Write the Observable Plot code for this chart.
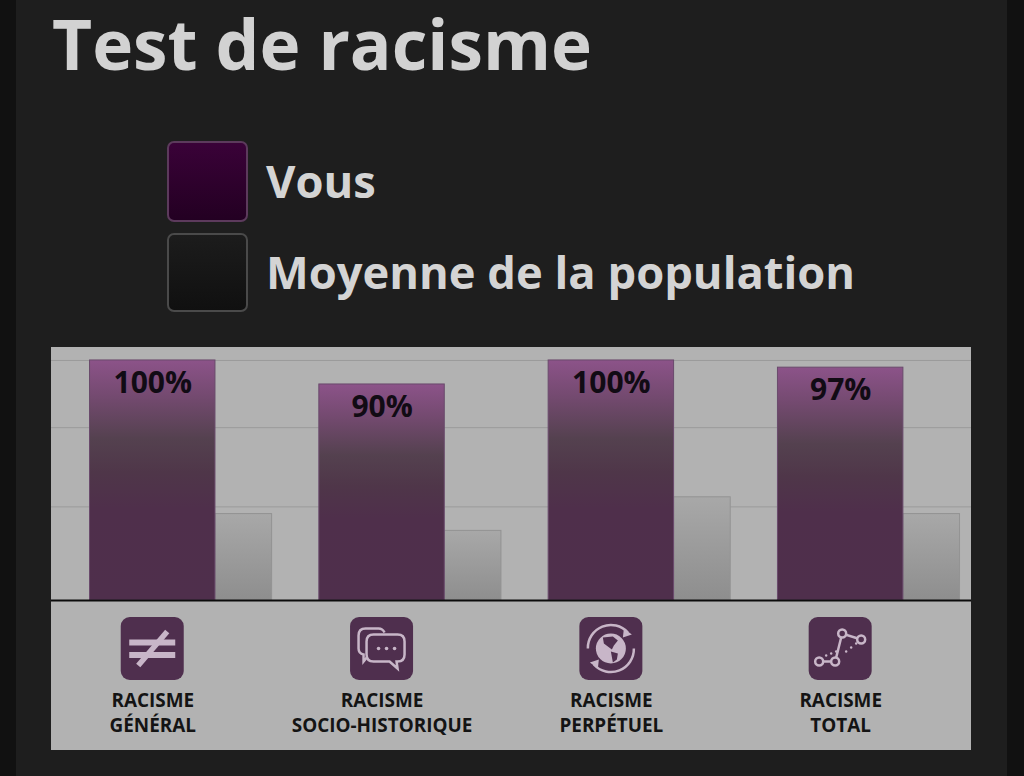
<!DOCTYPE html>
<html lang="fr"><head><meta charset="utf-8">
<script src="https://cdn.jsdelivr.net/npm/d3@7"></script>
<script src="https://cdn.jsdelivr.net/npm/@observablehq/plot@0.6"></script>
<style>
html,body{margin:0;padding:0;width:1024px;height:776px;overflow:hidden;background:#1e1e1e;font-family:"Open Sans","Noto Sans",sans-serif}
#l,#r{position:absolute;top:0;bottom:0;background:#111}
#l{left:0;width:16px}#r{left:1007px;width:17px}
h1{position:absolute;left:52px;top:0;margin:0;font-size:69.3px;line-height:86px;font-weight:700;color:#d2d2d2;white-space:nowrap}
.sw{position:absolute;left:167px;width:77px;border-radius:7px;border:2px solid}
.lb{position:absolute;left:266px;font-size:45.3px;line-height:60px;font-weight:700;color:#d4d4d4;white-space:nowrap}
#chart{position:absolute;left:51px;top:347px}
svg{display:block;overflow:visible}
</style></head><body>
<div id="l"></div><div id="r"></div>
<h1>Test de racisme</h1>
<div class="sw" style="top:141px;height:77px;background:linear-gradient(#3a0238,#230022);border-color:#5c3a5c"></div>
<div class="lb" style="top:151px">Vous</div>
<div class="sw" style="top:233px;height:75px;background:linear-gradient(#1c1c1c,#101010);border-color:#4a4a4a"></div>
<div class="lb" style="top:242px">Moyenne de la population</div>
<div id="chart"></div>
<script>
const categories = ["RACISME\nGÉNÉRAL", "RACISME\nSOCIO-HISTORIQUE", "RACISME\nPERPÉTUEL", "RACISME\nTOTAL"];
const vous = [100, 90, 100, 97];
const moyenne = [36, 29, 43, 36];
const valueLabels = ["100%", "90%", "100%", "97%"];
const gridValues = [39, 72, 100];
const iconNames = ["neq", "chat", "globe", "path"];

const wideBar = 0.547, narrowBar = 0.247;
const table = categories.map((c, i) => ({cat: c, i, vous: vous[i], moy: moyenne[i], label: valueLabels[i], mid: i + wideBar / 2}));

const plot = Plot.plot({
  width: 920, height: 403,
  marginTop: 0, marginBottom: 150, marginLeft: 0, marginRight: 0,
  style: {background: "#b2b2b2", fontFamily: '"Open Sans","Noto Sans",sans-serif', overflow: "visible"},
  x: {domain: [-0.168, 3.844], axis: null},
  y: {domain: [0, 105.4], axis: null},
  marks: [
    Plot.ruleY(gridValues, {y: d => d, stroke: "#9a9a9a", strokeWidth: 1}),
    Plot.rectY(table, {x1: d => d.i + wideBar, x2: d => d.i + wideBar + narrowBar, y1: 0, y2: "moy", fill: "url(#gGray)", stroke: "#939393", strokeWidth: 1}),
    Plot.rectY(table, {x1: "i", x2: d => d.i + wideBar, y1: 0, y2: "vous", fill: "url(#gPurple)", stroke: "#6a4a6c", strokeWidth: 1}),
    Plot.text(table, {x: "mid", y: "vous", text: "label", dy: 23, fill: "#110b14", fontSize: 30, fontWeight: 700}),
    Plot.text(table, {x: "mid", text: "cat", frameAnchor: "bottom", lineAnchor: "top", dy: 89, fill: "#141414", fontSize: 18.9, fontWeight: 700, lineHeight: 1.32}),
    Plot.ruleY([0], {stroke: "#0c0c0c", strokeWidth: 2})
  ]
});
document.getElementById("chart").append(plot);

const svg = d3.select(plot);
const defs = svg.insert("defs", ":first-child");
const grad = (id, stops) => {
  const g = defs.append("linearGradient").attr("id", id).attr("x1", 0).attr("y1", 0).attr("x2", 0).attr("y2", 1);
  stops.forEach(([o, c]) => g.append("stop").attr("offset", o).attr("stop-color", c));
};
grad("gPurple", [[0, "#8c5389"], [0.15, "#744a70"], [0.33, "#54414f"], [0.47, "#4f3649"], [0.62, "#4f2f4b"], [1, "#4f2f4c"]]);
grad("gGray", [[0, "#a8a8a8"], [1, "#8e8e8e"]]);

const xs = plot.scale("x");
const ink = "#c8b6c8", tile = "#4f2f4e";
const glyphs = {
  neq(g) {
    g.append("path").attr("d", "M-23-6H23M-23 6.5H23").attr("stroke", ink).attr("stroke-width", 6).attr("fill", "none");
    g.append("path").attr("d", "M-14 17L15-17").attr("stroke", ink).attr("stroke-width", 5.5).attr("fill", "none");
  },
  chat(g) {
    g.append("path").attr("d", "M3-16Q1-20-3-20H-16Q-23-20-23-13V0Q-23 5-18 6V13L-13 7").attr("fill", "none").attr("stroke", ink).attr("stroke-width", 2.5);
    g.append("path").attr("d", "M-8-14H16Q23-14 23-7V6Q23 13 16 13H15L16 20L8 13H-8Q-15 13-15 6V-7Q-15-14-8-14Z").attr("fill", tile).attr("stroke", ink).attr("stroke-width", 2.5);
    [-3, 5, 13].forEach(x => g.append("circle").attr("cx", x).attr("cy", 0).attr("r", 1.8).attr("fill", ink));
  },
  globe(g) {
    g.append("circle").attr("r", 15).attr("fill", ink);
    g.append("path").attr("d", "M-8-11L2-12L7-8L3-3L1 1L-3-2L-7-5ZM0 3L7 5L6 11L2 14Z").attr("fill", tile);
    g.append("path").attr("d", "M-23 0A23 23 0 0 1 17-16M23 0A23 23 0 0 1-17 16").attr("fill", "none").attr("stroke", ink).attr("stroke-width", 2.5);
    g.append("path").attr("d", "M13-20L21-14L12-11ZM-13 20L-21 14L-12 11Z").attr("fill", ink);
  },
  path(g) {
    const pts = [[-21, 13], [-5, 13], [2, -15], [21, -9]];
    g.append("path").attr("d", "M" + pts.join("L")).attr("fill", "none").attr("stroke", ink).attr("stroke-width", 2.5);
    pts.forEach(([x, y]) => g.append("circle").attr("cx", x).attr("cy", y).attr("r", 4).attr("fill", tile).attr("stroke", ink).attr("stroke-width", 2.5));
    [[-14, 7], [-9, 5], [-4, 3], [6, 3], [11, -1], [16, -5]].forEach(([x, y]) => g.append("circle").attr("cx", x).attr("cy", y).attr("r", 1.2).attr("fill", ink));
  }
};
table.forEach((d, i) => {
  const g = svg.append("g").attr("transform", `translate(${xs.apply(d.mid)},301.5)`);
  g.append("rect").attr("x", -31.5).attr("y", -31.5).attr("width", 63).attr("height", 63).attr("rx", 9).attr("fill", tile);
  glyphs[iconNames[i]](g);
});
</script>
</body></html>
